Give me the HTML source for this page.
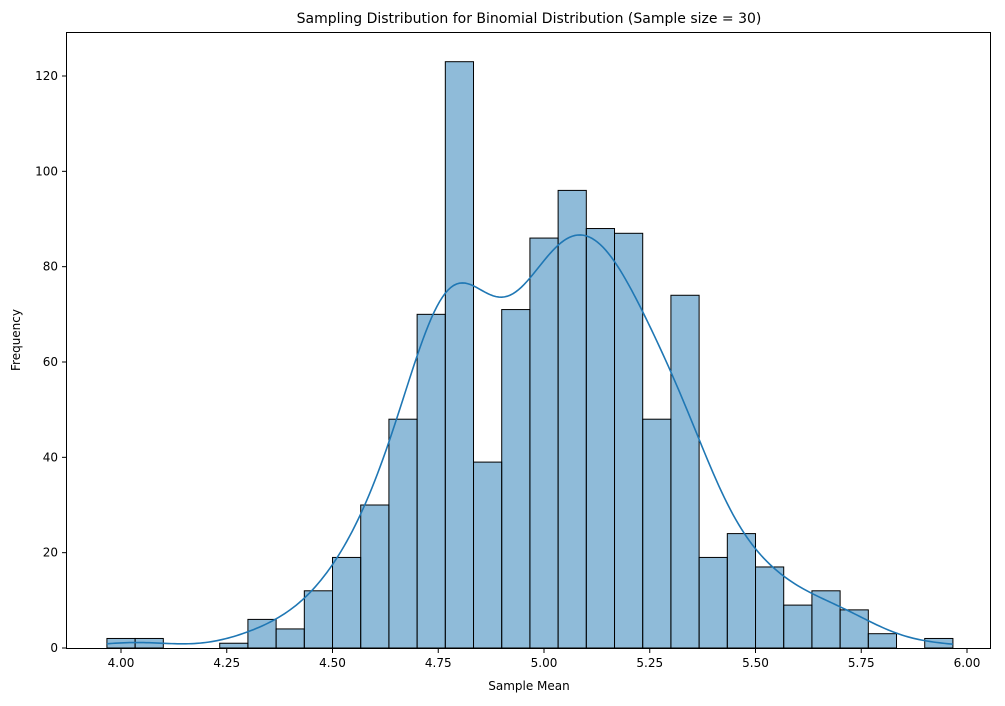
<!DOCTYPE html>
<html><head><meta charset="utf-8"><style>
body{margin:0;background:#fff}
svg text{font-family:"DejaVu Sans","Liberation Sans",sans-serif;fill:#000}
</style></head><body>
<svg id="chart" width="1005" height="701" xmlns="http://www.w3.org/2000/svg">
<text x="529" y="23" font-size="14" text-anchor="middle">Sampling Distribution for Binomial Distribution (Sample size = 30)</text>
<g id="bars"></g>
<path id="kde" fill="none" stroke="#1f77b4" stroke-width="1.6"/>
<rect x="66.5" y="32.5" width="924" height="616" fill="none" stroke="#000" stroke-width="1"/>
<g id="xt"></g><g id="yt"></g>
<text x="529" y="690" font-size="12" text-anchor="middle">Sample Mean</text>
<text transform="translate(20,340) rotate(-90)" font-size="12" text-anchor="middle">Frequency</text>
</svg>
<script>
const binStart = 3.9667;
const binWidth = 1/15;
const counts = [2,2,0,0,1,6,4,12,19,30,48,70,123,39,71,86,96,88,87,48,74,19,24,17,9,12,8,3,0,2];
const xTicks = [4.00,4.25,4.50,4.75,5.00,5.25,5.50,5.75,6.00];
const yTicks = [0,20,40,60,80,100,120];
const NS="http://www.w3.org/2000/svg";
function X(v){return 121+(v-4)*423;}
function Y(v){return 648-v*572/120;}
const bars=document.getElementById('bars');
counts.forEach((c,i)=>{
  if(c<=0) return;
  const r=document.createElementNS(NS,'rect');
  const x0=X(binStart+i*binWidth), x1=X(binStart+(i+1)*binWidth);
  r.setAttribute('x',x0);r.setAttribute('y',Y(c));r.setAttribute('width',x1-x0);r.setAttribute('height',Y(0)-Y(c));
  r.setAttribute('fill','rgba(31,119,180,0.5)');r.setAttribute('stroke','#000');r.setAttribute('stroke-width','1');
  
  
  bars.appendChild(r);
});
let n=0,s=0,s2=0;
counts.forEach((c,i)=>{const m=binStart+(i+0.5)*binWidth;n+=c;s+=c*m;s2+=c*m*m;});
const mean=s/n, sd=Math.sqrt(s2/n-mean*mean);
const bw=1.2*sd*Math.pow(n,-0.2);
let d='';
const lo=binStart, hi=binStart+counts.length*binWidth;
for(let k=0;k<=300;k++){
  const x=lo+(hi-lo)*k/300;let f=0;
  counts.forEach((c,i)=>{const m=binStart+(i+0.5)*binWidth;const z=(x-m)/bw;f+=c*Math.exp(-0.5*z*z);});
  f=f/(n*bw*Math.sqrt(2*Math.PI));
  const y=f*n*binWidth;
  d+=(k?'L':'M')+X(x).toFixed(2)+','+Y(y).toFixed(2);
}
document.getElementById('kde').setAttribute('d',d);
const xt=document.getElementById('xt');
xTicks.forEach(v=>{
  const l=document.createElementNS(NS,'line');l.setAttribute('x1',X(v));l.setAttribute('x2',X(v));l.setAttribute('y1',649);l.setAttribute('y2',653);l.setAttribute('stroke','#000');
  
  
  xt.appendChild(l);
  const t=document.createElementNS(NS,'text');t.setAttribute('x',X(v));t.setAttribute('y',667);t.setAttribute('font-size','12');t.setAttribute('text-anchor','middle');t.textContent=v.toFixed(2);
  
  
  xt.appendChild(t);
});
const yt=document.getElementById('yt');
yTicks.forEach(v=>{
  const l=document.createElementNS(NS,'line');l.setAttribute('x1',62);l.setAttribute('x2',66);l.setAttribute('y1',Y(v));l.setAttribute('y2',Y(v));l.setAttribute('stroke','#000');
  
  
  yt.appendChild(l);
  const t=document.createElementNS(NS,'text');t.setAttribute('x',58);t.setAttribute('y',Y(v)+4);t.setAttribute('font-size','12');t.setAttribute('text-anchor','end');t.textContent=v;
  
  
  yt.appendChild(t);
});
</script>
</body></html>
